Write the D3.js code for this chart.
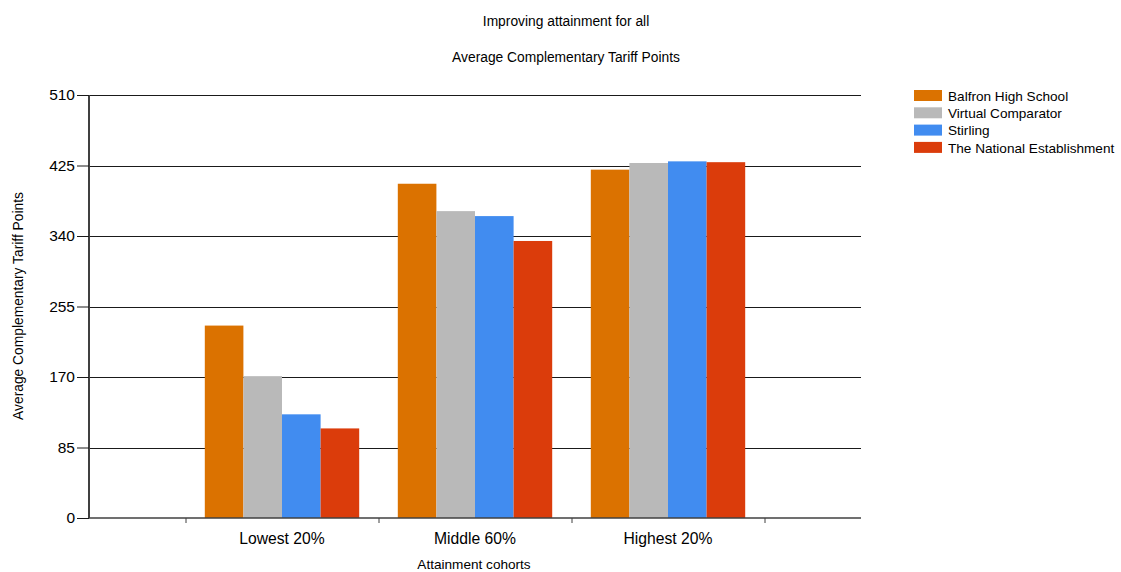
<!DOCTYPE html>
<html><head><meta charset="utf-8">
<script src="https://cdn.jsdelivr.net/npm/d3@7"></script>
<style>body{margin:0;background:#fff;} svg{display:block;font-family:"Liberation Sans",Arial,sans-serif;}</style>
</head><body><svg id="c" width="1121" height="572"></svg>
<script>
const categories = ["Lowest 20%", "Middle 60%", "Highest 20%"];
const seriesNames = ["Balfron High School", "Virtual Comparator", "Stirling", "The National Establishment"];
const balfron = [232, 403, 420];
const virtualComparator = [171, 370, 428];
const stirling = [125, 364, 430];
const national = [108, 334, 429];
const yTicks = [0, 85, 170, 255, 340, 425, 510];
const colors = ["#DB7200", "#B9B9B9", "#418CF0", "#DB3C0B"];
const seriesValues = [balfron, virtualComparator, stirling, national];

(function () {
const svg = d3.select("#c");
const pLeft = 89, pRight = 861, pTop = 95, pBottom = 518;
const y = d3.scaleLinear().domain([0, 510]).range([pBottom, pTop]);
// category axis: positions 0..4, categories at 1,2,3
const xc = d3.scaleLinear().domain([0, categories.length + 1]).range([pLeft, pRight]);
const slot = xc(1) - xc(0);
const groupW = slot * 0.8;
const xs = d3.scaleBand().domain(seriesNames).range([-groupW / 2, groupW / 2]).padding(0);

// gridlines
svg.append("g").selectAll("line").data(yTicks.filter(d => d > 0)).join("line")
  .attr("x1", pLeft).attr("x2", pRight).attr("y1", d => Math.round(y(d)) + 0.5).attr("y2", d => Math.round(y(d)) + 0.5)
  .attr("stroke", "#1a1a1a").attr("stroke-width", 1);

// bars
seriesNames.forEach((s, i) => {
  svg.append("g").selectAll("rect").data(seriesValues[i]).join("rect")
    .attr("x", (d, j) => xc(j + 1) + xs(s))
    .attr("width", xs.bandwidth())
    .attr("y", d => y(d))
    .attr("height", d => y(0) - y(d))
    .attr("fill", colors[i]);
});

// y axis
const yAxis = d3.axisLeft(y).tickValues(yTicks).tickSize(12).tickPadding(2);
const gy = svg.append("g").attr("transform", `translate(${pLeft},0)`).call(yAxis);
gy.select(".domain").attr("stroke", "#404040").attr("stroke-width", 2).attr("d", `M0,${pBottom}V${pTop}`);
gy.selectAll(".tick line").attr("stroke", "#1a1a1a");
gy.selectAll("text").attr("font-size", 15.5).attr("fill", "#000").attr("font-family", "Liberation Sans, Arial, sans-serif");

// x axis
const xTickVals = d3.range(categories.length + 1).map(i => i + 0.5);
const gx = svg.append("g").attr("transform", `translate(0,${pBottom})`)
  .call(d3.axisBottom(xc).tickValues(xTickVals).tickSize(5).tickFormat(""));
gx.select(".domain").attr("stroke", "#404040").attr("stroke-width", 1.5).attr("d", `M${pLeft},0H${pRight}`);
gx.selectAll(".tick line").attr("stroke", "#404040");
svg.append("g").selectAll("text").data(categories).join("text")
  .attr("x", (d, i) => xc(i + 1)).attr("y", 544)
  .attr("text-anchor", "middle").attr("font-size", 15.7).attr("fill", "#000").text(d => d);

// titles
svg.append("text").attr("x", 566).attr("y", 26).attr("text-anchor", "middle").attr("font-size", 13.8).text("Improving attainment for all");
svg.append("text").attr("x", 566).attr("y", 62).attr("text-anchor", "middle").attr("font-size", 13.8).text("Average Complementary Tariff Points");
svg.append("text").attr("x", 474).attr("y", 569).attr("text-anchor", "middle").attr("font-size", 13.6).text("Attainment cohorts");
svg.append("text").attr("transform", "translate(23,306) rotate(-90)").attr("text-anchor", "middle").attr("font-size", 13.8).text("Average Complementary Tariff Points");

// legend
const lg = svg.append("g").attr("transform", "translate(914,90)");
seriesNames.forEach((s, i) => {
  lg.append("rect").attr("x", 0).attr("y", i * 17.3).attr("width", 28).attr("height", 11).attr("fill", colors[i]);
  lg.append("text").attr("x", 34).attr("y", i * 17.3 + 10.8).attr("font-size", 13.6).text(s);
});
})();
</script></body></html>
